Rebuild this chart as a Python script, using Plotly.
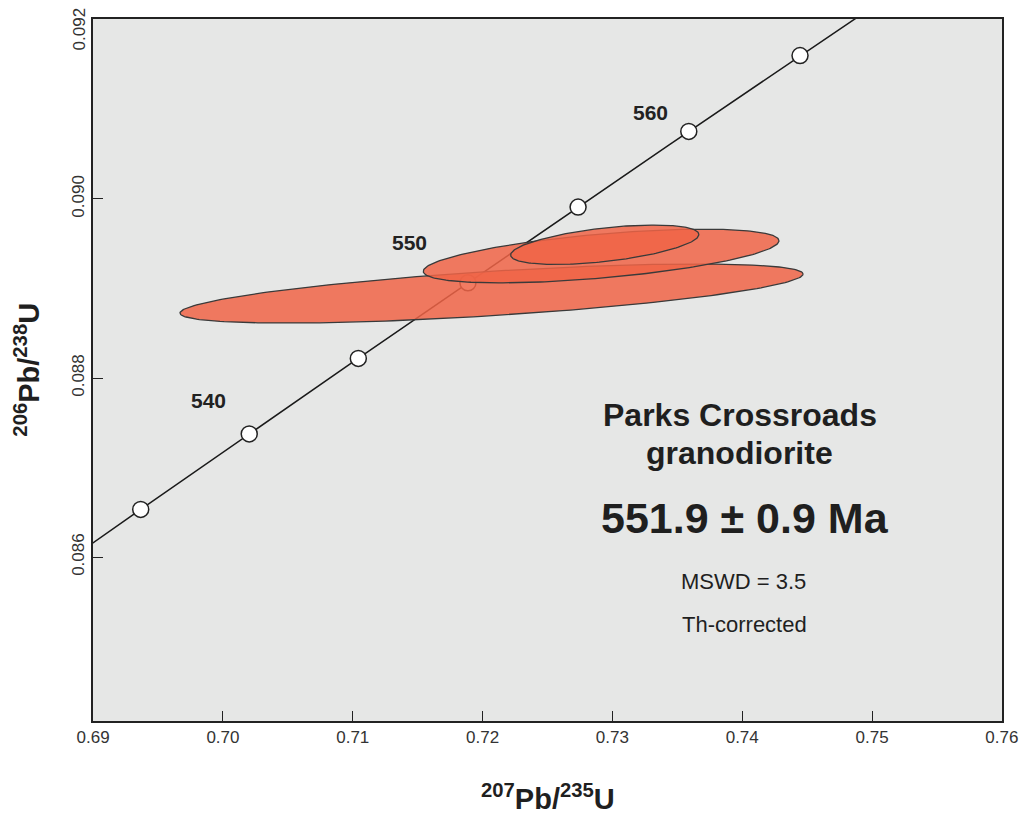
import numpy as np
import plotly.graph_objects as go

# ---- data ----
concordia_ages = [535, 540, 545, 550, 555, 560, 565]          # Ma, marked points
labelled_ages = [540, 550, 560]
label_shift_x = [-41, -58, -38]
label_shift_y = [33, 40, 19]

# ellipse parameters (data units): centre, half-widths, correlation
ell_cx = [0.72069, 0.72913, 0.72941]
ell_cy = [0.088944, 0.089363, 0.089489]
ell_sx = [0.02400, 0.01370, 0.00725]
ell_sy = [0.000330, 0.000300, 0.000220]
ell_rho = [0.66, 0.57, 0.52]

x_ticks = [0.69, 0.70, 0.71, 0.72, 0.73, 0.74, 0.75, 0.76]
y_ticks = [0.086, 0.088, 0.090, 0.092]

info_text = ["<b>Parks Crossroads</b>", "<b>granodiorite</b>",
             "<b>551.9 ± 0.9 Ma</b>", "MSWD = 3.5", "Th-corrected"]
info_y = [0.08759, 0.087165, 0.086439, 0.085728, 0.085248]
info_x = [0.7398, 0.7398, 0.7402, 0.7401, 0.7402]
info_size = [32, 32, 43, 22, 22]

L238 = 1.55125e-10
L235 = 9.8485e-10


def conc(t_ma):
    t = np.asarray(t_ma, dtype=float) * 1e6
    return np.exp(L235 * t) - 1, np.exp(L238 * t) - 1


fig = go.Figure()

# concordia curve
tc = np.linspace(520, 580, 400)
cx, cy = conc(tc)
fig.add_trace(go.Scatter(x=cx, y=cy, mode="lines",
                         line=dict(color="#1a1a1a", width=1.5),
                         hoverinfo="skip", showlegend=False))
px_, py_ = conc(concordia_ages)
fig.add_trace(go.Scatter(x=px_, y=py_, mode="markers",
                         marker=dict(size=16, color="white",
                                     line=dict(color="#222", width=1.5)),
                         showlegend=False))

# error ellipses
th = np.linspace(0, 2 * np.pi, 240)
for cxe, cye, sx, sy, r in zip(ell_cx, ell_cy, ell_sx, ell_sy, ell_rho):
    ex = cxe + sx * np.cos(th)
    ey = cye + sy * (r * np.cos(th) + np.sqrt(1 - r * r) * np.sin(th))
    fig.add_trace(go.Scatter(x=ex, y=ey, mode="lines", fill="toself",
                             fillcolor="rgba(240,100,70,0.85)",
                             line=dict(color="#3a3a3a", width=1.3),
                             showlegend=False))

# age labels
lx, ly = conc(labelled_ages)
for a, x, y, dx, dy in zip(labelled_ages, lx, ly, label_shift_x, label_shift_y):
    fig.add_annotation(x=x, y=y, text=f"<b>{a}</b>", showarrow=False,
                       xshift=dx, yshift=dy,
                       font=dict(family="Liberation Sans, Arial", size=21, color="#222"))

for t, x, y, s in zip(info_text, info_x, info_y, info_size):
    fig.add_annotation(x=x, y=y, text=t, showarrow=False,
                       font=dict(family="Liberation Sans, Arial", size=s, color="#1f1f1f"))

# axis titles
fig.add_annotation(xref="paper", yref="paper", x=0.5, y=-0.108, yanchor="middle",
                   text="<b><sup>207</sup>Pb/<sup>235</sup>U</b>", showarrow=False,
                   font=dict(family="Liberation Sans, Arial", size=29, color="#1f1f1f"))
fig.add_annotation(xref="paper", yref="paper", x=-0.073, y=0.5, xanchor="center",
                   yanchor="middle", textangle=-90,
                   text="<b><sup>206</sup>Pb/<sup>238</sup>U</b>", showarrow=False,
                   font=dict(family="Liberation Sans, Arial", size=29, color="#1f1f1f"))

tick_font = dict(family="Liberation Sans Narrow, Arial Narrow, Arial", size=17, color="#333")

# top y tick label sits below its tick (it would be cut by the page edge otherwise)
y_ticktext = [f"{v:.3f}" for v in y_ticks]
top_label = y_ticktext[-1]
y_ticktext[-1] = ""
fig.add_annotation(xref="paper", yref="y", x=0, y=y_ticks[-1], xanchor="center",
                   yanchor="top", xshift=-14, yshift=14, textangle=-90,
                   text=top_label, showarrow=False, font=tick_font)

axis_common = dict(showgrid=False, zeroline=False, showline=True, mirror=True,
                   linecolor="#222", linewidth=1.5, ticks="inside", ticklen=10,
                   tickcolor="#222", tickwidth=1.3, automargin=False,
                   tickfont=tick_font)
fig.update_xaxes(range=[0.68999, 0.76001], tickvals=x_ticks,
                 ticktext=[f"{v:.2f}" for v in x_ticks], **axis_common)
fig.update_yaxes(range=[0.08417, 0.09201], tickvals=y_ticks,
                 ticktext=y_ticktext, tickangle=-90, **axis_common)

fig.update_layout(width=1026, height=816,
                  margin=dict(l=93, r=24, t=19, b=95, autoexpand=False),
                  plot_bgcolor="#e6e7e6", paper_bgcolor="white")

fig.write_html("out.html", config={"displayModeBar": False},
               post_script="document.body.style.margin='0';"
                           "document.body.style.overflow='hidden';")
